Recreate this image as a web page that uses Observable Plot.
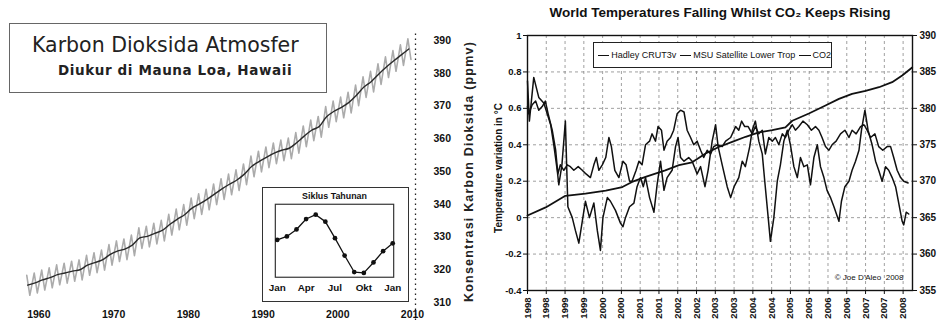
<!DOCTYPE html>
<html><head><meta charset="utf-8">
<script src="https://cdn.jsdelivr.net/npm/d3@7"></script>
<script src="https://cdn.jsdelivr.net/npm/@observablehq/plot@0.6"></script>
<style>
body{margin:0;background:#fff;}
#wrap{position:relative;width:940px;height:331px;overflow:hidden;background:#fff;font-family:"Liberation Sans",Arial,sans-serif;color:#111;}
.abs{position:absolute;}
#titlebox{left:9px;top:23px;width:316px;height:68px;border:1.2px solid #666;background:#fff;}
#t1{left:22px;top:11px;font-family:"DejaVu Sans",sans-serif;font-size:20.5px;line-height:1;white-space:nowrap;color:#222;}
#t2{left:48px;top:40px;font-family:"DejaVu Sans",sans-serif;font-weight:bold;font-size:13.5px;letter-spacing:0.6px;line-height:1;white-space:nowrap;color:#222;}
#inset{left:262px;top:187px;width:147px;height:115px;border:1.5px solid #333;box-sizing:border-box;background:#fff;}
#inset svg{position:absolute;left:-1.5px;top:-1.5px;}
#legend{left:593px;top:42px;width:239px;height:26px;border:1.5px solid #222;box-sizing:border-box;background:#fff;display:flex;align-items:center;justify-content:center;font-size:9px;white-space:nowrap;font-family:"Liberation Sans Narrow","Liberation Sans",Arial,sans-serif;}
.ln{display:inline-block;width:15px;border-top:1.5px solid #111;vertical-align:middle;margin:0 2px 0 4px;}
</style></head><body><div id="wrap"></div>
<script>
// ---------- Left chart: Keeling curve (Mauna Loa) ----------
const co2Years = [1958,1959,1960,1961,1962,1963,1964,1965,1966,1967,1968,1969,1970,1971,1972,1973,1974,1975,1976,1977,1978,1979,1980,1981,1982,1983,1984,1985,1986,1987,1988,1989,1990,1991,1992,1993,1994,1995,1996,1997,1998,1999,2000,2001,2002,2003,2004,2005,2006,2007,2008,2009];
const co2Annual = [315.3,316.0,316.9,317.6,318.5,319.0,319.6,320.0,321.4,322.2,323.0,324.6,325.7,326.3,327.5,329.7,330.2,331.1,332.0,333.8,335.4,336.8,338.8,340.1,341.5,343.1,344.7,346.1,347.4,349.2,351.6,353.1,354.4,355.6,356.5,357.1,358.8,360.8,362.6,363.7,366.7,368.4,369.6,371.1,373.3,375.8,377.5,379.8,381.9,383.8,385.6,387.4];
const co2MayPeak = [318.3,319.0,319.9,320.6,321.5,322.0,322.6,323.0,324.4,325.2,326.0,327.7,328.8,329.4,330.6,332.8,333.3,334.2,335.1,336.9,338.5,339.9,341.9,343.2,344.6,346.2,347.8,349.2,350.5,352.3,354.7,356.2,357.5,358.7,359.6,360.2,361.9,363.9,365.7,366.8,369.8,371.5,372.7,374.2,376.4,378.9,380.6,382.9,385.0,386.9,388.7,390.5];
const co2OctLow = [312.2,312.9,313.8,314.5,315.4,315.9,316.5,316.9,318.3,319.1,319.9,321.4,322.5,323.1,324.3,326.5,327.0,327.9,328.8,330.6,332.2,333.6,335.6,336.9,338.3,339.9,341.5,342.9,344.2,346.0,348.4,349.9,351.2,352.4,353.3,353.9,355.6,357.6,359.4,360.5,363.5,365.2,366.4,367.9,370.1,372.6,374.3,376.6,378.7,380.6,382.4,384.2];
const keelingTicks = [310,320,330,340,350,360,370,380,390];
const keelingYearTicks = [1960,1970,1980,1990,2000,2010];
const keelingTitle = "Karbon Dioksida Atmosfer";
const keelingSubtitle = "Diukur di Mauna Loa, Hawaii";
const keelingAxisTitle = "Konsentrasi Karbon Dioksida (ppmv)";

// inset: annual cycle
const seasonMonths = [0,1,2,3,4,5,6,7,8,9,10,11,12];
const seasonCycle = [0.3,0.7,1.5,2.7,3.2,2.4,0.5,-1.5,-3.4,-3.5,-2.3,-1.0,-0.1];
const seasonTickMonths = [0,3,6,9,12];
const seasonLabels = ["Jan","Apr","Jul","Okt","Jan"];
const insetTitle = "Siklus Tahunan";

// ---------- Right chart: temperatures vs CO2 1998-2008 ----------
const hadleyMonths = [0,0.4,1.5,2.6,3.6,4.7,5.7,6.6,7.9,9,9.7,10.5,11.6,12.7,13.7,14.8,16.2,17.5,18.7,20.1,21.2,22,22.8,23.9,25,26,26.8,27.9,29.2,30.5,31.5,32.6,33.4,34.7,35.6,36.6,37.7,39,39.8,40.9,41.7,42.8,43.6,44.6,45.7,46.7,47.8,48.9,50,51,52.1,53.1,54.2,55.3,56.3,57.4,58.5,59.5,60.6,62.2,63.3,64.9,66.5,67.5,68.4,69.4,70.5,71.8,72.8,73.9,75,76,77.1,78.2,79.2,80.3,81.4,82.4,83.5,84.6,85.6,86.7,88,89.4,90.7,92,93.1,94.1,95.2,96.3,97.3,98.6,100,101.4,102.7,103.7,105,106.4,107.5,108.5,109.6,111,112.2,113.5,114.9,116,117,118.1,119.2,120.2,121.6];
const hadley = [0.61,0.57,0.62,0.64,0.59,0.61,0.64,0.57,0.48,0.37,0.24,0.29,0.26,0.29,0.28,0.26,0.28,0.26,0.24,0.22,0.29,0.33,0.26,0.29,0.33,0.44,0.39,0.26,0.22,0.31,0.29,0.2,0.2,0.26,0.31,0.29,0.4,0.42,0.46,0.42,0.5,0.48,0.37,0.42,0.44,0.48,0.57,0.59,0.58,0.48,0.44,0.4,0.42,0.37,0.33,0.37,0.35,0.39,0.4,0.39,0.42,0.44,0.5,0.48,0.53,0.5,0.5,0.46,0.5,0.46,0.48,0.35,0.44,0.42,0.44,0.4,0.46,0.44,0.48,0.51,0.48,0.5,0.53,0.51,0.48,0.5,0.48,0.44,0.39,0.37,0.4,0.42,0.46,0.48,0.44,0.48,0.46,0.5,0.51,0.48,0.44,0.46,0.39,0.37,0.39,0.39,0.33,0.26,0.22,0.2,0.19];
const msuMonths = [0,0.6,2,3.6,5.2,6.3,7.4,8.4,9.5,10,11,12.1,12.9,14.3,15.3,16.4,17.5,18.5,19.8,21.2,22.3,23.3,24.1,25.5,26.5,28.1,29.7,30.5,31.3,32.6,34,35,36.1,37,37.7,39,40.4,41.4,42.5,43.6,44.6,46.2,47.3,48.1,48.9,50,51.5,52.6,54.2,55.3,56.7,57.7,59,60.1,60.9,62.2,63.8,64.9,66,67.5,68.6,69.6,71,71.8,72.8,73.9,75,75.8,76.9,77.6,78.7,79.8,80.8,81.9,83,84,85.1,86.2,87.2,88.3,89.4,90.4,91.5,92.6,93.6,94.7,95.7,96.8,97.9,99.5,100.3,101.4,102.7,103.7,104.8,105.9,106.7,107.8,108.8,110.1,111.2,112.2,113.3,114.4,115.4,116.5,117.6,118.6,119.7,120.2,121,121.8];
const msu = [0.75,0.53,0.77,0.66,0.63,0.57,0.51,0.40,0.26,0.18,0.29,0.53,0.06,0,-0.07,-0.14,-0.02,0.09,0,0.08,-0.07,-0.18,0,0.11,0.09,0.04,-0.03,-0.05,0,0.06,0.08,0.17,0.22,0.17,0.22,0.11,0.03,0.18,0.31,0.15,0.22,0.26,0.39,0.44,0.33,0.31,0.33,0.31,0.24,0.28,0.17,0.26,0.42,0.51,0.39,0.29,0.17,0.11,0.17,0.22,0.31,0.28,0.39,0.48,0.53,0.42,0.35,0.2,0,-0.13,0,0.2,0.29,0.42,0.48,0.4,0.28,0.22,0.33,0.28,0.29,0.18,0.33,0.4,0.28,0.22,0.15,0.11,0.06,-0.02,0.09,0.17,0.2,0.26,0.31,0.37,0.48,0.59,0.48,0.4,0.31,0.26,0.2,0.28,0.26,0.22,0.17,0.08,-0.02,-0.04,0.03,0.02];
const co2Months = [0,5.8,12.1,18.5,25,30.3,33.4,37.7,44,48.4,52.6,56.9,61.1,65.4,69.7,73.9,78.2,82.4,84.6,89.9,95.2,99.5,103.7,108,112.3,116.5,119.7,122.9];
const co2Ppm = [365.3,366.4,368.0,368.3,368.7,369.2,369.9,370.6,371.5,372.2,372.6,373.8,374.7,375.4,376.1,376.7,377.0,377.4,378.3,379.3,380.4,381.3,382.0,382.4,382.9,383.6,384.5,385.6];
const tempTicks = [-0.4,-0.2,0,0.2,0.4,0.6,0.8,1];
const co2Ticks = [355,360,365,370,375,380,385,390];
const xTickMonths = [0,6,12,18,24,30,36,42,48,54,60,66,72,78,84,90,96,102,108,114,120];
const xTickLabels = ["1998","1998","1999","1999","2000","2000","2001","2001","2002","2002","2003","2003","2004","2004","2005","2005","2006","2006","2007","2007","2008"];
const rightTitle = "World Temperatures Falling Whilst CO\u2082 Keeps Rising";
const rightYLabel = "Temperature variation in \u00B0C";
const legendNames = ["Hadley CRUT3v","MSU Satellite Lower Trop","CO2"];
const copyright = "\u00A9 Joe D'Aleo  2008";

const wrap = document.getElementById("wrap");
const NARROW = "'Liberation Sans Narrow','Liberation Sans',Arial,sans-serif";

// ---- Left plot
const zig = [];
co2Years.forEach((yr, i) => {
  zig.push({x: yr + 0.38, y: co2MayPeak[i]});
  zig.push({x: yr + 0.79, y: co2OctLow[i]});
});
const trend = co2Years.map((yr, i) => ({x: yr + 0.5, y: co2Annual[i]}));

const left = Plot.plot({
  width: 490, height: 331,
  marginTop: 40, marginBottom: 29, marginLeft: 1, marginRight: 75,
  x: {domain: [1955, 2010.4], label: null},
  y: {domain: [310, 390], label: null},
  style: {background: "transparent", fontFamily: "'Liberation Sans',Arial,sans-serif", color: "#111"},
  marks: [
    Plot.line(zig, {x: "x", y: "y", stroke: "#ababab", strokeWidth: 1.6}),
    Plot.line(trend, {x: "x", y: "y", stroke: "#2a2a2a", strokeWidth: 1.4, curve: "catmull-rom"}),
    Plot.ruleX([2010.4], {y1: keelingTicks[0] - 5.5, y2: keelingTicks[keelingTicks.length - 1] + 3, stroke: "#222", strokeWidth: 1.3, strokeDasharray: "1.5,3.5"}),
    Plot.axisY({anchor: "right", ticks: keelingTicks, tickSize: 0, tickPadding: 18, fontSize: 10.5, fontWeight: "bold", fontFamily: NARROW, tickFormat: d => String(d), label: null}),
    Plot.axisX({ticks: keelingYearTicks, tickSize: 0, tickPadding: 8, fontSize: 10.5, fontWeight: "bold", fontFamily: NARROW, tickFormat: d => String(d), label: null}),
    Plot.text([keelingAxisTitle], {frameAnchor: "right", dx: 53, rotate: -90, textAnchor: "middle", lineAnchor: "middle", fontSize: 12.5, fontWeight: "bold", fill: "#222", letterSpacing: "1px"})
  ]
});
left.classList.add("abs");
left.style.left = "0px"; left.style.top = "0px";
left.querySelectorAll("text").forEach(t => { if (t.textContent === keelingAxisTitle) t.setAttribute("letter-spacing", "1.2"); });
wrap.appendChild(left);

// title box
const tb = document.createElement("div");
tb.id = "titlebox"; tb.className = "abs";
tb.innerHTML = `<div id="t1" class="abs">${keelingTitle}</div><div id="t2" class="abs">${keelingSubtitle}</div>`;
wrap.appendChild(tb);

// inset
const inset = document.createElement("div");
inset.id = "inset"; inset.className = "abs";
const seasonData = seasonMonths.map((m, i) => ({m, v: seasonCycle[i]}));
const insetPlot = Plot.plot({
  width: 147, height: 115,
  marginLeft: 13, marginRight: 14, marginTop: 17, marginBottom: 24,
  x: {domain: [-0.2, 12.1], label: null},
  y: {domain: [-4, 4.4], axis: null, label: null},
  style: {background: "transparent", fontFamily: "'Liberation Sans',Arial,sans-serif", color: "#111"},
  marks: [
    Plot.frame({stroke: "#333", strokeWidth: 1.2}),
    Plot.line(seasonData, {x: "m", y: "v", stroke: "#111", strokeWidth: 1.3}),
    Plot.dot(seasonData, {x: "m", y: "v", r: 2.4, fill: "#111", stroke: "none"}),
    Plot.axisX({ticks: seasonTickMonths, tickFormat: d => seasonLabels[seasonTickMonths.indexOf(d)], tickSize: 0, tickPadding: 7, fontSize: 10, fontWeight: "bold", label: null}),
    Plot.text([insetTitle], {frameAnchor: "top", dy: -8, textAnchor: "middle", lineAnchor: "middle", fontSize: 9, fontWeight: "bold", fill: "#111"})
  ]
});
inset.appendChild(insetPlot);
wrap.appendChild(inset);

// ---- Right plot
const toT = c => tempTicks[0] + (c - co2Ticks[0]) * ((tempTicks[tempTicks.length-1] - tempTicks[0]) / (co2Ticks[co2Ticks.length-1] - co2Ticks[0]));
const fromT = t => Math.round(co2Ticks[0] + (t - tempTicks[0]) * ((co2Ticks[co2Ticks.length-1] - co2Ticks[0]) / (tempTicks[tempTicks.length-1] - tempTicks[0])));
const hadleyData = hadleyMonths.map((m, i) => ({m, v: hadley[i]}));
const msuData = msuMonths.map((m, i) => ({m, v: msu[i]}));
const co2Data = co2Months.map((m, i) => ({m, v: toT(co2Ppm[i])}));

const right = Plot.plot({
  width: 470, height: 331,
  marginLeft: 57, marginRight: 28, marginTop: 35, marginBottom: 41,
  x: {domain: [0, 123], label: null},
  y: {domain: [-0.4, 1], label: null},
  style: {background: "transparent", fontFamily: "'Liberation Sans',Arial,sans-serif", color: "#111"},
  marks: [
    Plot.gridX({ticks: xTickMonths, stroke: "#777", strokeOpacity: 0.7, strokeDasharray: "3,3"}),
    Plot.gridY({ticks: tempTicks, stroke: "#777", strokeOpacity: 0.7, strokeDasharray: "3,3"}),
    Plot.line(co2Data, {x: "m", y: "v", stroke: "#111", strokeWidth: 1.8}),
    Plot.line(hadleyData, {x: "m", y: "v", stroke: "#111", strokeWidth: 1.5}),
    Plot.line(msuData, {x: "m", y: "v", stroke: "#111", strokeWidth: 1.5}),
    Plot.frame({stroke: "#111", strokeWidth: 1.4}),
    Plot.axisY({anchor: "left", ticks: tempTicks, tickFormat: d => String(d), tickSize: 4, tickPadding: 2, fontSize: 9.5, fontWeight: "bold", fontFamily: NARROW, label: null}),
    Plot.axisY({anchor: "right", ticks: co2Ticks.map(toT), tickFormat: d => String(fromT(d)), tickSize: 4, tickPadding: 3, fontSize: 10, fontWeight: "bold", fontFamily: NARROW, label: null}),
    Plot.axisX({ticks: xTickMonths, tickFormat: d => xTickLabels[xTickMonths.indexOf(d)], tickRotate: -90, tickSize: 4, tickPadding: 3, fontSize: 9.5, fontWeight: "bold", fontFamily: NARROW, label: null}),
    Plot.text([rightTitle], {frameAnchor: "top", dy: -23, textAnchor: "middle", lineAnchor: "middle", fontSize: 13.5, fontWeight: "bold", fill: "#111"}),
    Plot.text([rightYLabel], {frameAnchor: "left", dx: -29, dy: 5, rotate: -90, textAnchor: "middle", lineAnchor: "middle", fontSize: 10, fontWeight: "bold", fill: "#111", fontFamily: NARROW}),
    Plot.text([copyright], {frameAnchor: "bottom-right", dx: -9, dy: -13, textAnchor: "end", lineAnchor: "middle", fontSize: 8, fill: "#111"})
  ]
});
right.classList.add("abs");
right.style.left = "470px"; right.style.top = "0px";
wrap.appendChild(right);

// legend
const lg = document.createElement("div");
lg.id = "legend"; lg.className = "abs";
lg.innerHTML = legendNames.map(n => `<span class="ln"></span><span>${n}</span>`).join("");
wrap.appendChild(lg);
</script>
</body></html>
